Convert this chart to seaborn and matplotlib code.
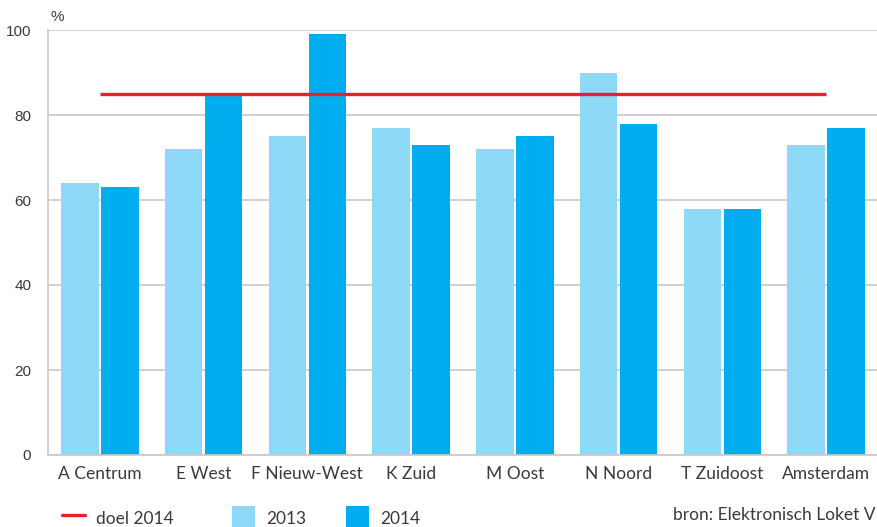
import pandas as pd
import seaborn as sns
import matplotlib.pyplot as plt
from matplotlib.lines import Line2D
from matplotlib.patches import Patch

wijken = ["A Centrum", "E West", "F Nieuw-West", "K Zuid", "M Oost",
          "N Noord", "T Zuidoost", "Amsterdam"]
pct_2013 = [64, 72, 75, 77, 72, 90, 58, 73]
pct_2014 = [63, 85, 99, 73, 75, 78, 58, 77]
doel_2014 = 85
y_ticks = [0, 20, 40, 60, 80, 100]

licht = "#8ed8f8"
donker = "#00aeef"
rood = "#e8202a"
grijs = "#c8c8c8"
tekst = "#3a3a3a"

df = pd.DataFrame({
    "wijk": wijken * 2,
    "jaar": ["2013"] * len(wijken) + ["2014"] * len(wijken),
    "pct": pct_2013 + pct_2014,
})

sns.set_theme(style="white")
plt.rcParams["font.family"] = ["Lato", "DejaVu Sans"]

fig = plt.figure(figsize=(8.78, 5.27), dpi=100)
ax = fig.add_axes([48 / 878, 72 / 527, 830 / 878, 425 / 527])

sns.barplot(
    data=df, x="wijk", y="pct", hue="jaar",
    palette={"2013": licht, "2014": donker},
    width=0.77, gap=0.06, saturation=1, legend=False, ax=ax,
)
for p in ax.patches:
    p.set_edgecolor("none")

ax.hlines(doel_2014, 0, len(wijken) - 1, color=rood, lw=2.4, zorder=5)

ax.set_ylim(0, 100)
ax.set_xlim(-0.5, len(wijken) - 0.5)
ax.set_yticks(y_ticks)
ax.set_yticklabels([str(v) for v in y_ticks], family="Liberation Sans",
                   fontsize=11, color=tekst)
ax.yaxis.grid(True, color=grijs, lw=1.2)
ax.set_axisbelow(True)
ax.tick_params(axis="y", length=0, pad=12)
ax.tick_params(axis="x", length=0, pad=8, labelsize=12.5, labelcolor=tekst)
ax.set_xlabel("")
ax.set_ylabel("")

for side in ["top", "right"]:
    ax.spines[side].set_visible(False)
for side in ["left", "bottom"]:
    ax.spines[side].set_color(grijs)
    ax.spines[side].set_linewidth(1.2)

fig.text(51 / 878, 1 - 17 / 527, "%", family="Liberation Sans",
         fontsize=11, color=tekst, va="center", ha="left")

# legenda
items = [
    (Line2D([], [], color=rood, lw=2.4), "doel 2014", 62),
    (Patch(facecolor=licht, edgecolor="none"), "2013", 232),
    (Patch(facecolor=donker, edgecolor="none"), "2014", 346),
]
for handle, label, x in items:
    fig.legend(
        [handle], [label], loc="center left",
        bbox_to_anchor=(x / 878, 1 - 518 / 527), frameon=False,
        fontsize=12.5, labelcolor=tekst, borderpad=0, borderaxespad=0,
        handlelength=1.32, handleheight=1.7, handletextpad=0.65,
    )

fig.text(876 / 878, 1 - 515 / 527, "bron: Elektronisch Loket V", fontsize=12.5,
         color=tekst, ha="right", va="center")

fig.savefig("out.png", dpi=100)
